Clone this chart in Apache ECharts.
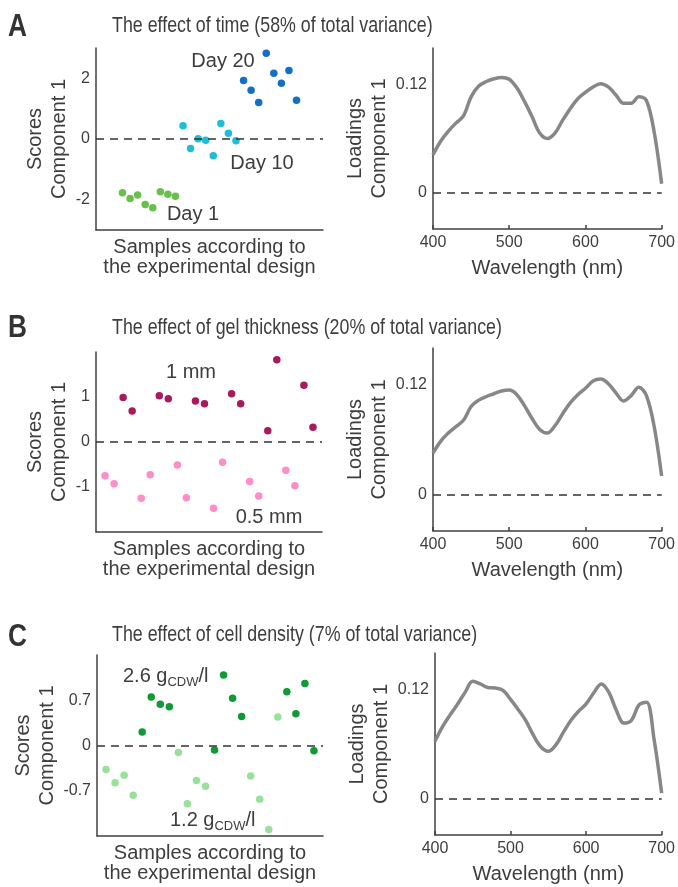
<!DOCTYPE html>
<html>
<head>
<meta charset="utf-8">
<script src="https://cdn.jsdelivr.net/npm/echarts@6/dist/echarts.min.js"></script>
<style>
html,body{margin:0;padding:0;background:#fff;}
#chart{width:678px;height:887px;}
</style>
</head>
<body>
<div id="chart"></div>
<script>
// ---------- DATA ----------
// Panel A: effect of time (scores)
const timeIdxDay1 = [1, 2, 3, 4, 5, 6, 7, 8];
const timeIdxDay10 = [9, 10, 11, 12, 13, 14, 15, 16];
const timeIdxDay20 = [17, 18, 19, 20, 21, 22, 23, 24];
const timeDay1 = [-1.77, -1.96, -1.85, -2.16, -2.27, -1.74, -1.82, -1.89];
const timeDay10 = [0.44, -0.31, 0.01, -0.04, -0.55, 0.51, 0.19, -0.06];
const timeDay20 = [1.93, 1.61, 1.20, 2.83, 2.17, 1.84, 2.26, 1.28];

// Panel B: effect of gel thickness (scores)
const gelIdxThin = [1, 2, 5, 6, 9, 10, 13, 14, 17, 18, 21, 22];
const gelIdxThick = [3, 4, 7, 8, 11, 12, 15, 16, 19, 20, 23, 24];
const gelThin = [-0.75, -0.93, -1.25, -0.73, -0.51, -1.24, -1.47, -0.45, -0.88, -1.20, -0.63, -0.97];
const gelThick = [0.99, 0.69, 1.03, 0.96, 0.91, 0.85, 1.07, 0.85, 0.25, 1.83, 1.26, 0.33];

// Panel C: effect of cell density (scores)
const cellIdxLow = [1, 2, 3, 4, 9, 10, 11, 12, 17, 18, 19, 20];
const cellIdxHigh = [5, 6, 7, 8, 13, 14, 15, 16, 21, 22, 23, 24];
const cellLow = [-0.37, -0.575, -0.46, -0.77, -0.11, -0.90, -0.54, -0.63, -0.47, -0.83, -1.30, 0.44];
const cellHigh = [0.21, 0.75, 0.64, 0.60, -0.07, 1.09, 0.73, 0.45, 0.83, 0.49, 0.96, -0.08];

// Loadings (wavelength in nm)
const wavelengths = [400,410,420,430,440,450,460,470,480,490,500,510,520,530,540,550,560,570,580,590,600,610,620,630,640,650,660,670,680,690,700];
const loadTime = [0.042,0.057,0.068,0.077,0.085,0.106,0.118,0.123,0.126,0.1275,0.1255,0.116,0.101,0.084,0.066,0.060,0.066,0.080,0.093,0.104,0.111,0.117,0.1205,0.117,0.108,0.099,0.099,0.106,0.102,0.068,0.010];
const loadGel = [0.045,0.058,0.067,0.074,0.081,0.096,0.103,0.107,0.110,0.113,0.114,0.109,0.097,0.083,0.071,0.067,0.075,0.088,0.100,0.109,0.116,0.124,0.126,0.121,0.111,0.102,0.108,0.117,0.108,0.075,0.020];
const loadCell = [0.063,0.079,0.092,0.104,0.117,0.129,0.126,0.122,0.1215,0.119,0.109,0.098,0.086,0.070,0.057,0.052,0.059,0.073,0.086,0.096,0.104,0.116,0.126,0.117,0.097,0.083,0.086,0.103,0.106,0.065,0.006];

// Tick labels
const scoreTicksA = [-2, 0, 2];
const scoreTicksB = [-1, 0, 1];
const scoreTicksC = [-0.7, 0, 0.7];
const loadTicks = [0, 0.12];

// Text
const titles = [
  'The effect of time (58% of total variance)',
  'The effect of gel thickness (20% of total variance)',
  'The effect of cell density (7% of total variance)'
];
const panelLetters = ['A', 'B', 'C'];

// ---------- STYLE ----------
const FONT = "'Liberation Sans', Arial, Helvetica, sans-serif";
const TXT = '#3d3d3d';
const AX = '#404040';

const zip = (xs, ys) => xs.map((x, i) => [x, ys[i]]);

const grids = [
  {left: 96, top: 48, width: 227, height: 182},
  {left: 433, top: 48, width: 229, height: 181},
  {left: 96, top: 352, width: 226, height: 180},
  {left: 433, top: 348, width: 229, height: 183},
  {left: 97, top: 655, width: 226, height: 181},
  {left: 435, top: 653, width: 227, height: 182}
];

const axisLine = {show: true, onZero: false, lineStyle: {color: AX, width: 1.5}};

function scoreX(idx, min, max) {
  return {
    gridIndex: idx, type: 'value', min: min, max: max,
    axisLine: axisLine, axisTick: {show: false}, axisLabel: {show: false}, splitLine: {show: false},
    name: 'Samples according to\nthe experimental design', nameLocation: 'middle', nameGap: 7,
    nameTextStyle: {fontFamily: FONT, fontSize: 20, lineHeight: 20, color: TXT}
  };
}
function scoreY(idx, min, max, ticks, gap) {
  return {
    gridIndex: idx, type: 'value', min: min, max: max,
    axisLine: axisLine, axisTick: {show: false}, splitLine: {show: false},
    axisLabel: {customValues: ticks, fontFamily: FONT, fontSize: 16, color: TXT, margin: 6,
      formatter: v => String(v)},
    name: 'Scores\nComponent 1', nameLocation: 'middle', nameRotate: 90, nameGap: gap,
    nameTextStyle: {fontFamily: FONT, fontSize: 20, lineHeight: 24, color: TXT}
  };
}
function loadX(idx) {
  return {
    gridIndex: idx, type: 'value', min: 400, max: 700, interval: 100,
    axisLine: axisLine, axisTick: {show: true, inside: true, length: 4, lineStyle: {color: AX, width: 1.5}},
    splitLine: {show: false},
    axisLabel: {fontFamily: FONT, fontSize: 16, color: TXT, margin: 6},
    name: 'Wavelength (nm)', nameLocation: 'middle', nameGap: 29,
    nameTextStyle: {fontFamily: FONT, fontSize: 20, lineHeight: 20, color: TXT}
  };
}
function loadY(idx) {
  return {
    gridIndex: idx, type: 'value', min: -0.04, max: 0.16,
    axisLine: axisLine, axisTick: {show: false}, splitLine: {show: false},
    axisLabel: {customValues: loadTicks, fontFamily: FONT, fontSize: 16, color: TXT, margin: 6,
      formatter: v => String(v)},
    name: 'Loadings\nComponent 1', nameLocation: 'middle', nameRotate: 90, nameGap: 30,
    nameTextStyle: {fontFamily: FONT, fontSize: 20, lineHeight: 24, color: TXT}
  };
}

const zeroLine = {
  silent: true, symbol: 'none', label: {show: false},
  lineStyle: {color: '#333', width: 1.5, type: [8, 6]},
  data: [{yAxis: 0}]
};

function scatter(idx, data, color, withZero) {
  const s = {type: 'scatter', xAxisIndex: idx, yAxisIndex: idx, data: data, symbolSize: 7.5,
    itemStyle: {color: color, opacity: 1}, z: 3};
  if (withZero) s.markLine = zeroLine;
  return s;
}
function loadLine(idx, vals) {
  return {type: 'line', xAxisIndex: idx, yAxisIndex: idx, data: zip(wavelengths, vals),
    showSymbol: false, smooth: 0.35, lineStyle: {color: '#878787', width: 3.5}, z: 3,
    markLine: zeroLine};
}

function text(x, y, str, opts, extra) {
  return Object.assign({type: 'text', x: x, y: y, silent: true,
    style: Object.assign({text: str, fontFamily: FONT, fontSize: 20, fill: TXT,
      align: 'center', verticalAlign: 'middle'}, opts || {})}, extra || {});
}
function subText(x, y, pre, sub, post) {
  return {type: 'text', x: x, y: y, silent: true,
    style: {text: '{a|' + pre + '}{s|' + sub + '}{a|' + post + '}', fill: TXT,
      align: 'left', verticalAlign: 'middle',
      rich: {a: {fontFamily: FONT, fontSize: 20, fill: TXT, lineHeight: 24},
             s: {fontFamily: FONT, fontSize: 13, fill: TXT, padding: [12, 0, 0, 0]}}}};
}

const titleY = [26, 328, 635];
const letterY = [27, 328, 637];

const graphic = [];
for (let i = 0; i < 3; i++) {
  graphic.push(text(112, titleY[i], titles[i], {fontSize: 22, align: 'left'}, {scaleX: 0.81}));
  graphic.push(text(8, letterY[i], panelLetters[i], {fontSize: 32, fontWeight: 'bold', align: 'left', fill: '#333'}, {scaleX: 0.82}));
}
graphic.push(text(223, 61, 'Day 20'));
graphic.push(text(262, 163, 'Day 10'));
graphic.push(text(193, 214, 'Day 1'));
graphic.push(text(191, 372, '1 mm'));
graphic.push(text(269, 517, '0.5 mm'));
graphic.push(subText(123, 676, '2.6 g', 'CDW', '/l'));
graphic.push(subText(170, 820, '1.2 g', 'CDW', '/l'));

const option = {
  backgroundColor: '#fff',
  animation: false,
  grid: grids,
  xAxis: [scoreX(0, -2.5, 27.5), loadX(1), scoreX(2, 0, 25), loadX(3), scoreX(4, 0, 25), loadX(5)],
  yAxis: [scoreY(0, -3, 3, scoreTicksA, 16), loadY(1), scoreY(2, -2, 2, scoreTicksB, 16), loadY(3),
          scoreY(4, -1.4, 1.4, scoreTicksC, 28), loadY(5)],
  series: [
    scatter(0, zip(timeIdxDay1, timeDay1), '#68c04c', true),
    scatter(0, zip(timeIdxDay10, timeDay10), '#1fbdd6', false),
    scatter(0, zip(timeIdxDay20, timeDay20), '#1470c6', false),
    loadLine(1, loadTime),
    scatter(2, zip(gelIdxThin, gelThin), '#ff8dc8', true),
    scatter(2, zip(gelIdxThick, gelThick), '#a91a5d', false),
    loadLine(3, loadGel),
    scatter(4, zip(cellIdxLow, cellLow), '#99e09b', true),
    scatter(4, zip(cellIdxHigh, cellHigh), '#0f9a36', false),
    loadLine(5, loadCell)
  ],
  graphic: graphic
};

const chart = echarts.init(document.getElementById('chart'), null, {renderer: 'canvas'});
chart.setOption(option);
</script>
</body>
</html>
